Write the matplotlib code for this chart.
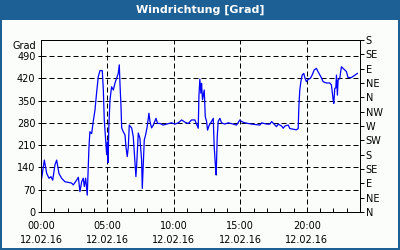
import matplotlib
matplotlib.use("Agg")
import matplotlib.pyplot as plt
from matplotlib.patches import Rectangle

# Stunden seit 00:00 am 12.02.16 und Windrichtung in Grad
hours = [0.0, 0.05, 0.25, 0.43, 0.6, 0.75, 0.88, 1.05, 1.18, 1.35, 1.55, 1.8,
         2.3, 2.43, 2.68, 2.81, 2.93, 3.06, 3.18, 3.26, 3.36, 3.48, 3.61, 3.68,
         3.81, 3.93, 4.06, 4.18, 4.31, 4.44, 4.61, 4.69, 4.76, 4.86, 4.94, 5.0,
         5.05, 5.1, 5.19, 5.31, 5.44, 5.56, 5.69, 5.81, 5.89, 5.94, 6.02, 6.07,
         6.19, 6.32, 6.39, 6.49, 6.57, 6.64, 6.82, 6.94, 7.07, 7.14, 7.19, 7.32,
         7.44, 7.57, 7.62, 7.69, 7.77, 7.87, 7.99, 8.12, 8.2, 8.32, 8.45, 8.65,
         8.77, 8.95, 9.2, 9.45, 9.82, 10.08, 10.33, 10.58, 10.83, 11.08, 11.33,
         11.58, 11.7, 11.83, 11.88, 11.95, 12.03, 12.08, 12.15, 12.28, 12.36,
         12.46, 12.53, 12.66, 12.83, 12.96, 13.03, 13.13, 13.18, 13.26, 13.33,
         13.46, 13.58, 13.83, 14.08, 14.46, 14.71, 14.96, 15.09, 15.34, 15.84,
         16.47, 16.6, 16.97, 17.22, 17.35, 17.6, 17.72, 17.85, 18.1, 18.22,
         18.35, 18.6, 18.72, 18.97, 19.22, 19.35, 19.4, 19.47, 19.55, 19.65,
         19.77, 19.85, 19.97, 20.1, 20.27, 20.4, 20.55, 20.72, 20.85, 21.05,
         21.23, 21.48, 21.73, 21.85, 21.98, 22.03, 22.1, 22.18, 22.23, 22.3,
         22.35, 22.48, 22.6, 22.73, 22.85, 22.98, 23.1, 23.35, 23.55, 23.73, 23.8]
grad = [100, 106, 163, 121, 106, 111, 100, 148, 163, 121, 106, 95,
        91, 85, 100, 109, 64, 95, 106, 80, 106, 53, 205, 252,
        246, 284, 320, 373, 425, 444, 444, 383, 289, 226, 180, 220,
        155, 264, 352, 393, 383, 404, 420, 435, 462, 404, 331, 264,
        252, 242, 205, 174, 205, 273, 264, 237, 154, 111, 142, 248,
        232, 163, 74, 142, 226, 242, 268, 310, 284, 264, 273, 294,
        278, 278, 273, 276, 280, 276, 280, 289, 282, 278, 289,
        289, 276, 263, 362, 417, 373, 404, 352, 383, 299,
        284, 257, 273, 284, 294, 205, 142, 116, 237, 284,
        294, 280, 276, 280, 276, 273, 289, 284, 280, 276,
        273, 280, 276, 276, 284, 273, 268, 276, 270, 263,
        270, 273, 262, 260, 258, 262, 330, 383, 409, 430,
        435, 422, 409, 416, 420, 430, 446, 451, 440, 425,
        409, 405, 405, 399, 352, 341, 388, 390, 430, 367,
        414, 420, 456, 451, 446, 441, 422, 422, 428, 433, 435]

left_ticks = [0, 70, 140, 210, 280, 350, 420, 490]
dir_ticks = [0, 45, 90, 135, 180, 225, 270, 315, 360, 405, 450, 495, 540]
dir_labels = ["N", "NE", "E", "SE", "S", "SW", "W", "NW", "N", "NE", "E", "SE", "S"]
x_ticks = [0, 5, 10, 15, 20]
x_labels = ["00:00\n12.02.16", "05:00\n12.02.16", "10:00\n12.02.16",
            "15:00\n12.02.16", "20:00\n12.02.16"]

blue_frame = "#1c6096"
px = 0.72  # ein Pixel in Punkten

fig = plt.figure(figsize=(4, 2.5), dpi=100, facecolor=blue_frame)
fig.patches.append(Rectangle((2 / 400, 2 / 250), 396 / 400, 228 / 250,
                             transform=fig.transFigure, facecolor="#fbfdfb",
                             edgecolor="none", zorder=-10))
fig.text(0.5, 0.96, "Windrichtung [Grad]", color="white", fontsize=8,
         fontweight="bold", ha="center", va="center")

ax = fig.add_axes([41 / 400, 38 / 250, 319 / 400, 172 / 250])
ax.set_facecolor("none")
ax.plot(hours, grad, color="#0000ff", lw=0.9)

ax.set_xlim(0, 24)
ax.set_ylim(0, 540)
ax.set_yticks(left_ticks)
ax.set_xticks(x_ticks)
ax.set_xticklabels(x_labels, linespacing=1.5)
ax.set_xticks(range(0, 25), minor=True)
ax.tick_params(axis="x", which="both", direction="in", length=3, width=px,
               labelsize=7, pad=6.5, top=False)
ax.tick_params(axis="y", direction="out", length=2, width=px, labelsize=7, pad=2)

for v in left_ticks[1:]:
    ax.axhline(v, color="black", lw=px, ls=(0, (5, 3)), zorder=1)
for v in x_ticks[1:]:
    ax.axvline(v, color="black", lw=px, ls=(0, (5, 3)), zorder=1)

for s in ax.spines.values():
    s.set_linewidth(px)

ax.text(-0.016, 0.965, "Grad", transform=ax.transAxes, ha="right", va="center",
        fontsize=7)

ax2 = ax.twinx()
ax2.set_ylim(0, 540)
ax2.set_yticks(dir_ticks)
ax2.set_yticklabels(dir_labels)
ax2.tick_params(axis="y", direction="out", length=3, width=px, labelsize=7, pad=1)
for s in ax2.spines.values():
    s.set_linewidth(px)

fig.savefig("out.png", dpi=100, facecolor=blue_frame)
